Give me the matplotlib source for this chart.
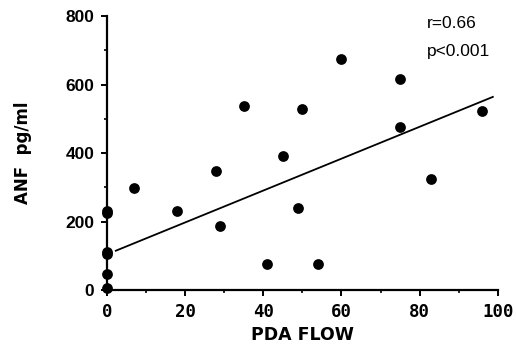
import matplotlib
matplotlib.use("Agg")
import matplotlib.pyplot as plt
import numpy as np
from matplotlib.ticker import MultipleLocator

# data
pda_flow = [0, 0, 0, 0, 0, 0, 7, 18, 28, 29, 35, 41, 45, 49, 50, 54, 60, 75, 75, 83, 96]
anf = [231, 224, 111, 104, 47, 6, 298, 231, 347, 187, 537, 76, 391, 239, 528, 76, 674, 616, 476, 324, 523]
fit_intercept = 104
fit_slope = 4.66
fit_x_range = [2.3, 98.7]
x_ticks = [0, 20, 40, 60, 80, 100]
y_ticks = [0, 200, 400, 600, 800]
stats_text = ["r=0.66", "p<0.001"]

fig = plt.figure(figsize=(5.16, 3.49), dpi=100)
ax = fig.add_axes([0.207, 0.169, 0.758, 0.785])

ax.scatter(pda_flow, anf, s=60, color="black", zorder=3, clip_on=False, linewidths=0)
fx = np.array(fit_x_range)
ax.plot(fx, fit_intercept + fit_slope * fx, color="black", lw=1.3)

ax.set_xlim(0, 100)
ax.set_ylim(0, 800)
for s in ["top", "right"]:
    ax.spines[s].set_visible(False)
for s in ["left", "bottom"]:
    ax.spines[s].set_linewidth(1.6)

ax.set_xticks(x_ticks)
ax.set_yticks(y_ticks)
ax.xaxis.set_minor_locator(MultipleLocator(10))
ax.yaxis.set_minor_locator(MultipleLocator(100))
ax.tick_params(which="major", direction="out", length=4, width=1.4, pad=5)
ax.tick_params(which="minor", direction="out", length=2.5, width=1.2)

for lab in ax.get_xticklabels():
    lab.set_fontfamily("DejaVu Sans Mono")
    lab.set_fontweight("bold")
    lab.set_fontsize(12.5)
for lab in ax.get_yticklabels():
    lab.set_fontfamily("Liberation Sans")
    lab.set_fontweight("bold")
    lab.set_fontsize(12.5)

ax.set_xlabel("PDA FLOW", fontfamily="DejaVu Sans", fontweight="bold", fontsize=12.5, labelpad=4)
ax.set_ylabel("ANF  pg/ml", fontfamily="DejaVu Sans", fontweight="bold", fontsize=12, labelpad=24)

ax.text(81.8, 777, stats_text[0], fontfamily="Liberation Sans", fontsize=12.5, va="center", ha="left")
ax.text(81.8, 696, stats_text[1], fontfamily="Liberation Sans", fontsize=12.5, va="center", ha="left")

fig.savefig("out.png", dpi=100)
